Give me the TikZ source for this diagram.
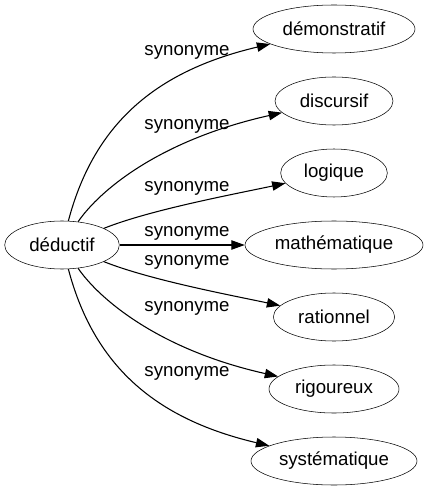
\documentclass[tikz,border=0pt]{standalone}
\usepackage{fontspec}
\setmainfont{Liberation Sans}
\usetikzlibrary{arrows.meta,shapes.geometric}
\tikzset{
  word/.style={draw, ellipse, inner sep=0pt, minimum height=36pt, font=\fontsize{14pt}{16pt}\selectfont},
  lbl/.style={inner sep=0pt, font=\fontsize{14pt}{16pt}\selectfont},
  syn/.style={line width=0.8pt, -{Triangle[length=10pt,width=7pt]}}
}
\begin{document}
\begin{tikzpicture}[x=0.75pt, y=-0.75pt]
        \useasboundingbox (0,0) rectangle (428,491);
        \node[word, minimum width=86pt] (deductif) at (62,245) {déductif};
        \node[word, minimum width=121.5pt] (demonstratif) at (334,29) {démonstratif};
        \node[word, minimum width=88.5pt] (discursif) at (334,101) {discursif};
        \node[word, minimum width=80pt] (logique) at (334,173) {logique};
        \node[word, minimum width=133.5pt] (mathematique) at (334,245) {mathématique};
        \node[word, minimum width=91pt] (rationnel) at (334,317) {rationnel};
        \node[word, minimum width=97.5pt] (rigoureux) at (334,389) {rigoureux};
        \node[word, minimum width=124.5pt] (systematique) at (334,461) {systématique};
        \draw[syn] (deductif) .. controls (95,120) and (160,70) .. (demonstratif);
        \draw[syn] (deductif) .. controls (100,190) and (160,140) .. (discursif);
        \draw[syn] (deductif) .. controls (150,210) and (230,195) .. (logique);
        \draw[syn] (deductif) -- (mathematique);
        \draw[syn] (deductif) .. controls (150,280) and (230,295) .. (rationnel);
        \draw[syn] (deductif) .. controls (100,300) and (160,350) .. (rigoureux);
        \draw[syn] (deductif) .. controls (95,370) and (160,420) .. (systematique);
        \node[lbl] (l1) at (187,52) {synonyme};
        \node[lbl] (l2) at (187,126) {synonyme};
        \node[lbl] (l3) at (187,188) {synonyme};
        \node[lbl] (l4) at (187,233) {synonyme};
        \node[lbl] (l5) at (187,262) {synonyme};
        \node[lbl] (l6) at (187,308) {synonyme};
        \node[lbl] (l7) at (187,373) {synonyme};
    \end{tikzpicture}
\end{document}
